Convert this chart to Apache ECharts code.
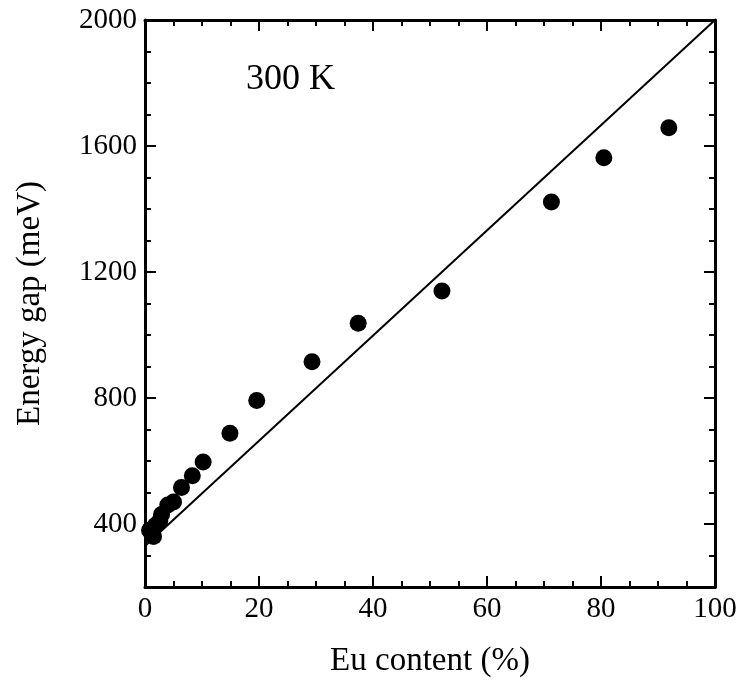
<!DOCTYPE html>
<html><head><meta charset="utf-8">
<script src="https://cdn.jsdelivr.net/npm/echarts@6/dist/echarts.min.js"></script>
<style>html,body{margin:0;padding:0;background:#fff}#c{width:742px;height:683px}</style>
</head><body><div id="c"></div>
<script>
const euContent = [0.8, 1.5, 1.8, 2.6, 2.9, 4.0, 5.0, 6.4, 8.3, 10.2, 14.9, 19.6, 29.3, 37.4, 52.1, 71.3, 80.5, 91.9];
const energyGap = [380, 360, 395, 410, 430, 460, 470, 516, 553, 597, 688, 792, 915, 1037, 1140, 1422, 1563, 1658];
const fitX = [0, 100];
const fitY = [330, 2000];
const yMajorTicks = [400, 800, 1200, 1600, 2000];

const F = 'Liberation Serif, Times New Roman, serif';
const black = '#000';
const axLine = {show: true, lineStyle: {color: black, width: 3}};
const chart = echarts.init(document.getElementById('c'));
const option = {
  animation: false,
  backgroundColor: '#fff',
  grid: {left: 145, top: 20, right: 27, bottom: 93},
  graphic: [{type: 'text', left: 246, top: 62, style: {text: '300 K', font: '36px ' + F, fill: black}}],
  xAxis: [
    {type: 'value', min: 0, max: 100, interval: 20, position: 'bottom',
     name: 'Eu content (%)', nameLocation: 'middle', nameGap: 58,
     nameTextStyle: {fontFamily: F, fontSize: 33, color: black},
     axisLine: axLine, splitLine: {show: false},
     axisTick: {show: true, inside: true, length: 11, lineStyle: {color: black, width: 2}},
     minorTick: {show: true, splitNumber: 4, length: 6, lineStyle: {color: black, width: 2}},
     axisLabel: {fontFamily: F, fontSize: 29, color: black, margin: 8}},
    {type: 'value', min: 0, max: 100, interval: 20, position: 'top',
     axisLine: axLine, splitLine: {show: false},
     axisTick: {show: true, inside: true, length: 11, lineStyle: {color: black, width: 2}},
     minorTick: {show: true, splitNumber: 4, length: 6, lineStyle: {color: black, width: 2}},
     axisLabel: {show: false}}
  ],
  yAxis: [
    {type: 'value', min: 200, max: 2000, interval: 100, position: 'left',
     name: 'Energy gap (meV)', nameLocation: 'middle', nameGap: 98,
     nameTextStyle: {fontFamily: F, fontSize: 33, color: black},
     axisLine: axLine, splitLine: {show: false},
     axisTick: {show: true, inside: true, length: 6, lineStyle: {color: black, width: 2}},
     axisLabel: {fontFamily: F, fontSize: 29, color: black, margin: 8,
       formatter: v => (v % 400 === 0 ? String(v) : '')}},
    {type: 'value', min: 200, max: 2000, position: 'left',
     axisLine: {show: false}, splitLine: {show: false},
     axisTick: {show: true, inside: true, length: 11, customValues: yMajorTicks, lineStyle: {color: black, width: 2}},
     axisLabel: {show: false, customValues: yMajorTicks}},
    {type: 'value', min: 200, max: 2000, interval: 100, position: 'right',
     axisLine: axLine, splitLine: {show: false},
     axisTick: {show: true, inside: true, length: 6, lineStyle: {color: black, width: 2}},
     axisLabel: {show: false}},
    {type: 'value', min: 200, max: 2000, position: 'right',
     axisLine: {show: false}, splitLine: {show: false},
     axisTick: {show: true, inside: true, length: 11, customValues: yMajorTicks, lineStyle: {color: black, width: 2}},
     axisLabel: {show: false, customValues: yMajorTicks}}
  ],
  series: [
    {type: 'line', xAxisIndex: 0, yAxisIndex: 0, data: fitX.map((x, i) => [x, fitY[i]]),
     showSymbol: false, symbol: 'none', lineStyle: {color: black, width: 2}, z: 2},
    {type: 'scatter', xAxisIndex: 0, yAxisIndex: 0, data: euContent.map((x, i) => [x, energyGap[i]]),
     symbol: 'circle', symbolSize: 17, itemStyle: {color: black, opacity: 1}, z: 3}
  ]
};
chart.setOption(option);
</script></body></html>
